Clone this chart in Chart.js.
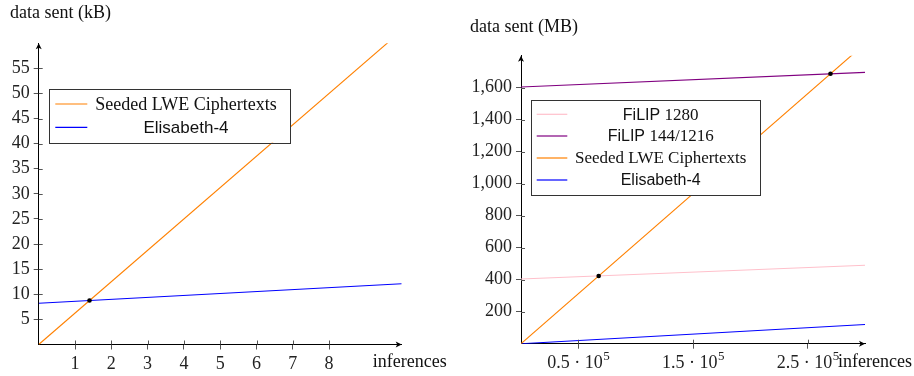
<!DOCTYPE html>
<html>
<head>
<meta charset="utf-8">
<script src="https://cdn.jsdelivr.net/npm/chart.js@4.4.0/dist/chart.umd.min.js"></script>
<style>
  body { margin: 0; background: #fff; width: 914px; height: 376px; overflow: hidden; }
  .box { position: absolute; top: 0; width: 457px; height: 376px; }
</style>
</head>
<body>
<div class="box" style="left:0"><canvas id="left" width="457" height="376"></canvas></div>
<div class="box" style="left:457px"><canvas id="right" width="457" height="376"></canvas></div>
<script>
// left chart: data sent in kB over a few inferences
const leftX = [0, 10];
const lweKB = [0, 62.5];
const elisabethKB = [8.2, 12.1];
const leftDotX = [1.4];
const leftDotY = [8.75];
const leftXTicks = [1, 2, 3, 4, 5, 6, 7, 8];
const leftYTicks = [5, 10, 15, 20, 25, 30, 35, 40, 45, 50, 55];

// right chart: data sent in MB over many inferences
const rightX = [0, 300000];
const filip1280MB = [404, 490];
const filip144MB = [1604, 1696];
const lweMB = [0, 1875];
const elisabethMB = [0, 120];
const rightDotX = [67750, 269900];
const rightDotY = [423, 1687];
const rightXTicks = [50000, 150000, 250000];
const rightXTickLabels = ['0.5 · 10^5', '1.5 · 10^5', '2.5 · 10^5'];
const rightYTicks = [200, 400, 600, 800, 1000, 1200, 1400, 1600];
const rightYTickLabels = ['200', '400', '600', '800', '1,000', '1,200', '1,400', '1,600'];

const SERIF = '"Liberation Serif", "DejaVu Serif", serif';
const SANS = '"Liberation Sans", Arial, sans-serif';

function pts(xs, ys) {
  return xs.map((x, i) => ({ x: x, y: ys[i] }));
}

function lineSet(label, color, xs, ys, runs) {
  return {
    label: label, runs: runs, data: pts(xs, ys), showLine: true, order: 1,
    borderColor: color, backgroundColor: color, borderWidth: 1.1,
    pointRadius: 0, pointHoverRadius: 0
  };
}

function dotSet(xs, ys) {
  return {
    label: 'dots', noLegend: true, data: pts(xs, ys), order: 0,
    pointRadius: 2.3, backgroundColor: '#000', borderColor: '#000', borderWidth: 0
  };
}

const decor = {
  id: 'decor',
  afterDatasetsDraw(chart, args, o) {
    const ctx = chart.ctx, a = chart.chartArea;
    const xs = chart.scales.x, ys = chart.scales.y;
    ctx.save();
    // inner half of the tick marks
    ctx.strokeStyle = '#555';
    ctx.lineWidth = 1;
    xs.ticks.forEach(t => {
      const px = Math.round(xs.getPixelForValue(t.value)) + 0.5;
      ctx.beginPath(); ctx.moveTo(px, a.bottom); ctx.lineTo(px, a.bottom - 4); ctx.stroke();
    });
    ys.ticks.forEach(t => {
      const py = Math.round(ys.getPixelForValue(t.value)) + 0.5;
      ctx.beginPath(); ctx.moveTo(a.left, py); ctx.lineTo(a.left + 4, py); ctx.stroke();
    });
    // arrow heads
    ctx.fillStyle = '#000';
    ctx.beginPath();
    ctx.moveTo(a.right, a.bottom);
    ctx.lineTo(a.right - 6, a.bottom - 3);
    ctx.lineTo(a.right - 4.5, a.bottom);
    ctx.lineTo(a.right - 6, a.bottom + 3);
    ctx.fill();
    ctx.beginPath();
    ctx.moveTo(a.left, a.top);
    ctx.lineTo(a.left - 3, a.top + 6);
    ctx.lineTo(a.left, a.top + 4.5);
    ctx.lineTo(a.left + 3, a.top + 6);
    ctx.fill();

    // x tick labels with a real superscript (right chart)
    if (o.supLabels) {
      ctx.fillStyle = '#222';
      ctx.textBaseline = 'alphabetic';
      ctx.textAlign = 'left';
      o.supLabels.forEach((lab, i) => {
        const parts = lab.split('^');
        ctx.font = '18px ' + SERIF;
        const w1 = ctx.measureText(parts[0]).width;
        ctx.font = '13px ' + SERIF;
        const w2 = ctx.measureText(parts[1]).width;
        const cx = xs.getPixelForValue(xs.ticks[i].value);
        const x0 = cx - (w1 + w2) / 2;
        ctx.font = '18px ' + SERIF;
        ctx.fillText(parts[0], x0, 368);
        ctx.font = '13px ' + SERIF;
        ctx.fillText(parts[1], x0 + w1 + 0.5, 360);
      });
    }

    // legend box
    const L = o.legend;
    ctx.fillStyle = '#fff';
    ctx.fillRect(L.x, L.y, L.w, L.h);
    ctx.strokeStyle = '#333';
    ctx.lineWidth = 1;
    ctx.strokeRect(Math.round(L.x) + 0.5, Math.round(L.y) + 0.5, Math.round(L.w), Math.round(L.h));
    const items = chart.data.datasets.filter(d => !d.noLegend);
    items.forEach((d, i) => {
      const y = L.rows[i];
      ctx.strokeStyle = d.borderColor;
      ctx.lineWidth = 1.2;
      ctx.beginPath(); ctx.moveTo(L.s0, y); ctx.lineTo(L.s1, y); ctx.stroke();
      ctx.fillStyle = '#111';
      ctx.textBaseline = 'middle';
      ctx.textAlign = 'left';
      const fonts = d.runs.map(r => (r[1] === 'serif' ? L.serif + 'px ' + SERIF : L.sans + 'px ' + SANS));
      let total = 0;
      d.runs.forEach((r, k) => { ctx.font = fonts[k]; total += ctx.measureText(r[0]).width; });
      let x = L.cx - total / 2;
      d.runs.forEach((r, k) => {
        ctx.font = fonts[k];
        ctx.fillText(r[0], x, y + 1);
        x += ctx.measureText(r[0]).width;
      });
    });

    // axis titles
    ctx.fillStyle = '#111';
    ctx.font = '18px ' + SERIF;
    ctx.textBaseline = 'middle';
    ctx.textAlign = 'left';
    ctx.fillText(o.yTitle, o.yTitleX, o.yTitleY);
    ctx.fillText('inferences', o.xTitleX, o.xTitleY);
    ctx.restore();
  }
};

function axis(min, max, tickVals, tickLabels, fit, hideLabels) {
  return {
    type: 'linear', min: min, max: max,
    afterBuildTicks: s => { s.ticks = tickVals.map(v => ({ value: v })); },
    afterFit: fit,
    grid: { drawOnChartArea: false, drawTicks: true, tickLength: 5, color: '#555' },
    border: { display: true, color: '#000', width: 1 },
    ticks: {
      autoSkip: false, maxRotation: 0, padding: 4, color: '#222',
      font: { family: SERIF, size: 18 },
      callback: (v) => {
        if (hideLabels) return '';
        const i = tickVals.indexOf(v);
        return tickLabels ? tickLabels[i] : String(v);
      }
    }
  };
}

function makeChart(id, datasets, scales, padding, decorOpts) {
  return new Chart(document.getElementById(id), {
    type: 'scatter',
    data: { datasets: datasets },
    options: {
      responsive: false, animation: false, devicePixelRatio: 1,
      layout: { padding: padding },
      scales: scales,
      plugins: { legend: { display: false }, tooltip: { enabled: false }, decor: decorOpts }
    },
    plugins: [decor]
  });
}

makeChart('left', [
  lineSet('Seeded LWE Ciphertexts', 'rgb(255,128,0)', leftX, lweKB, [['Seeded LWE Ciphertexts', 'serif']]),
  lineSet('Elisabeth-4', 'rgb(0,0,255)', leftX, elisabethKB, [['Elisabeth-4', 'sans']]),
  dotSet(leftDotX, leftDotY)
], {
  x: axis(0, 10, leftXTicks, null, s => { s.height = 31.5; }),
  y: axis(0, 60, leftYTicks, null, s => { s.width = 38.7; })
}, { left: 0, right: 55.3, top: 43.2, bottom: 0 }, {
  yTitle: 'data sent (kB)', yTitleX: 10, yTitleY: 13,
  xTitleX: 372.7, xTitleY: 362,
  legend: { x: 49.3, y: 89, w: 241.4, h: 53.7, rows: [104, 127.3], s0: 55.3, s1: 87.3, cx: 186, serif: 18, sans: 17 }
});

makeChart('right', [
  lineSet('FiLIP 1280', 'rgb(255,192,203)', rightX, filip1280MB, [['FiLIP ', 'sans'], ['1280', 'serif']]),
  lineSet('FiLIP 144/1216', 'rgb(128,0,128)', rightX, filip144MB, [['FiLIP ', 'sans'], ['144/1216', 'serif']]),
  lineSet('Seeded LWE Ciphertexts', 'rgb(255,128,0)', rightX, lweMB, [['Seeded LWE Ciphertexts', 'serif']]),
  lineSet('Elisabeth-4', 'rgb(0,0,255)', rightX, elisabethMB, [['Elisabeth-4', 'sans']]),
  dotSet(rightDotX, rightDotY)
], {
  x: axis(0, 300000, rightXTicks, null, s => { s.height = 32.3; }, true),
  y: axis(0, 1800, rightYTicks, rightYTickLabels, s => { s.width = 64; })
}, { left: 0, right: 49, top: 55.7, bottom: 0 }, {
  yTitle: 'data sent (MB)', yTitleX: 13, yTitleY: 27,
  xTitleX: 381, xTitleY: 362,
  supLabels: rightXTickLabels,
  legend: { x: 74, y: 100, w: 229.3, h: 95, rows: [114.3, 136, 158, 180], s0: 79.7, s1: 110.3, cx: 203.7, serif: 17, sans: 16 }
});
</script>
</body>
</html>
